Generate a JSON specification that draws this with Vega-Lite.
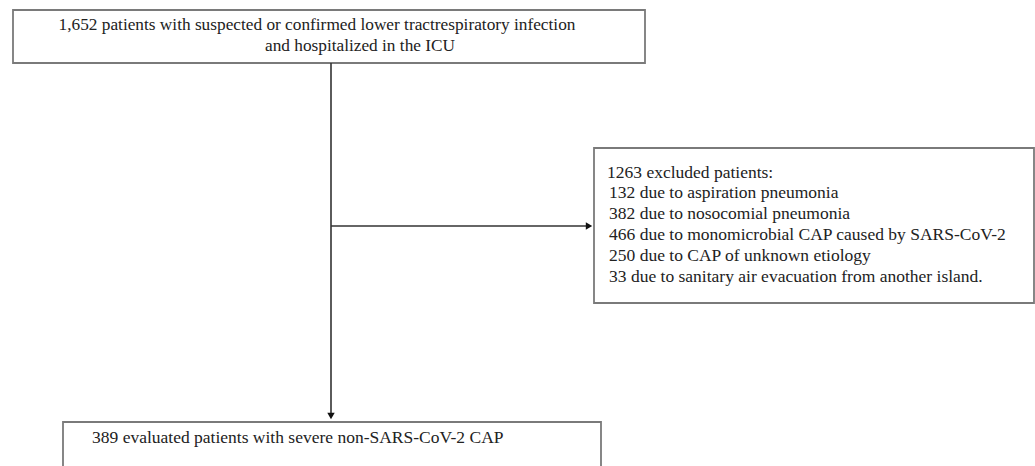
{
  "$schema": "https://vega.github.io/schema/vega-lite/v6.json",
  "width": 1035,
  "height": 466,
  "padding": 0,
  "autosize": {"type": "fit", "contains": "padding"},
  "background": "white",
  "config": {"view": {"stroke": null}},
  "datasets": {
    "boxes": [
      {"box": "screened", "x1": 13, "x2": 645, "y1": 10, "y2": 63},
      {"box": "excluded", "x1": 594, "x2": 1034, "y1": 148, "y2": 303},
      {"box": "evaluated", "x1": 63, "x2": 601, "y1": 422, "y2": 490}
    ],
    "links": [
      {"link": "main", "x1": 331, "x2": 331, "y1": 63, "y2": 416},
      {"link": "exclusion", "x1": 331, "x2": 589, "y1": 226, "y2": 226}
    ],
    "heads": [
      {"head": "down", "x": 331, "y": 416},
      {"head": "right", "x": 589, "y": 226}
    ],
    "centered": [
      {"label": "1,652 patients with suspected or confirmed lower tractrespiratory infection", "x": 317, "y": 25},
      {"label": "and hospitalized in the ICU", "x": 360, "y": 46}
    ],
    "lefttext": [
      {"label": "1263 excluded patients:", "x": 607, "y": 173},
      {"label": "132 due to aspiration pneumonia", "x": 609, "y": 193},
      {"label": "382 due to nosocomial pneumonia", "x": 609, "y": 213.5},
      {"label": "466 due to monomicrobial CAP caused by SARS-CoV-2", "x": 609, "y": 234.5},
      {"label": "250 due to CAP of unknown etiology", "x": 609, "y": 255.5},
      {"label": "33 due to sanitary air evacuation from another island.", "x": 609, "y": 277},
      {"label": "389 evaluated patients with severe non-SARS-CoV-2 CAP", "x": 92, "y": 438}
    ]
  },
  "layer": [
    {
      "data": {"name": "boxes"},
      "mark": {"type": "rect", "fill": "white", "stroke": "#7a7a7a", "strokeWidth": 1.8, "clip": true},
      "encoding": {
        "x": {"field": "x1", "type": "quantitative", "scale": {"domain": [0, 1035], "nice": false, "zero": false}, "axis": null},
        "x2": {"field": "x2"},
        "y": {"field": "y1", "type": "quantitative", "scale": {"domain": [0, 466], "nice": false, "zero": false, "reverse": true}, "axis": null},
        "y2": {"field": "y2"}
      }
    },
    {
      "data": {"name": "links"},
      "mark": {"type": "rule", "color": "#333333", "strokeWidth": 1.6},
      "encoding": {
        "x": {"field": "x1", "type": "quantitative"},
        "x2": {"field": "x2"},
        "y": {"field": "y1", "type": "quantitative"},
        "y2": {"field": "y2"}
      }
    },
    {
      "data": {"name": "heads"},
      "mark": {"type": "point", "filled": true, "color": "#111111", "opacity": 1, "size": 55},
      "encoding": {
        "x": {"field": "x", "type": "quantitative"},
        "y": {"field": "y", "type": "quantitative"},
        "shape": {"field": "head", "type": "nominal", "scale": {"domain": ["down", "right"], "range": ["triangle-down", "triangle-right"]}, "legend": null}
      }
    },
    {
      "data": {"name": "centered"},
      "mark": {"type": "text", "align": "center", "baseline": "middle", "font": "Liberation Serif", "fontSize": 17.3, "color": "#222222"},
      "encoding": {
        "x": {"field": "x", "type": "quantitative"},
        "y": {"field": "y", "type": "quantitative"},
        "text": {"field": "label"}
      }
    },
    {
      "data": {"name": "lefttext"},
      "mark": {"type": "text", "align": "left", "baseline": "middle", "font": "Liberation Serif", "fontSize": 17.5, "color": "#222222"},
      "encoding": {
        "x": {"field": "x", "type": "quantitative"},
        "y": {"field": "y", "type": "quantitative"},
        "text": {"field": "label"}
      }
    }
  ]
}
